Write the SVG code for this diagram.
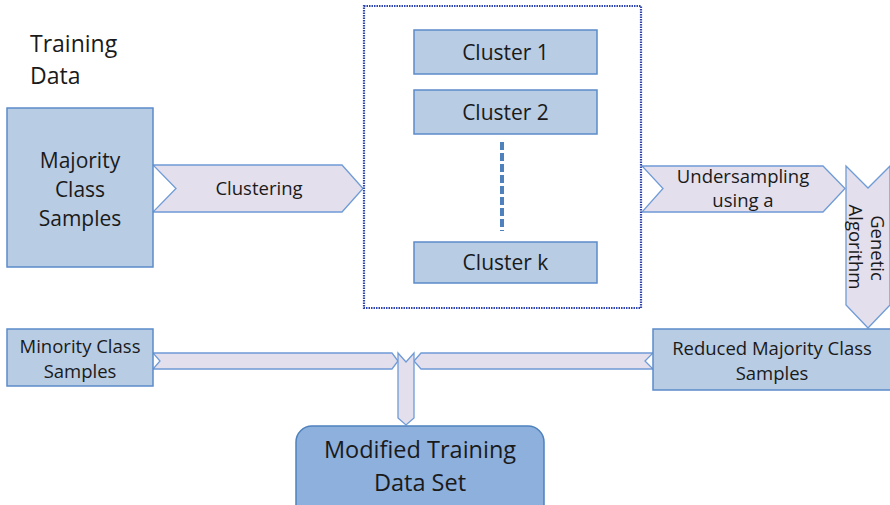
<svg xmlns="http://www.w3.org/2000/svg" width="890" height="505" viewBox="0 0 890 505">
<style>
text{font-family:"Open Sans","Liberation Sans",sans-serif;fill:#1a1a1a;text-anchor:middle}
.box{fill:#b8cce4;stroke:#5b8bc9;stroke-width:1.5}
.arr{fill:#e4dfec;stroke:#6f9bd6;stroke-width:1.3}
.t17{font-size:18.5px}
.t19{font-size:21px}
</style>
<rect width="890" height="505" fill="#fff"/>
<g id="title"><text x="30" y="52" font-size="23" style="text-anchor:start">Training</text><text x="30" y="84" font-size="23" style="text-anchor:start">Data</text></g>
<g id="connectors">
<polygon class="arr" points="153,165 342,165 363,188.5 342,212 153,212 176,188.5"/>
<text x="259" y="195" font-size="18.5">Clustering</text>
<polygon class="arr" points="642,166 823,166 845,188.5 823,212 642,212 663,188.5"/>
<text class="t17" x="743" y="183">Undersampling</text>
<text class="t17" x="743" y="207">using a</text>
<polygon class="arr" points="846,166 868,188 890,166 890,305 868,328 846,305"/>
<text font-size="18.5" transform="translate(871,248) rotate(90)">Genetic</text>
<text font-size="18.5" transform="translate(848.5,247) rotate(90)">Algorithm</text>
<polygon class="arr" points="153,353 392,353 398,361 392,369 153,369 160,361"/>
<polygon class="arr" points="653,353 421,353 414,361 421,369 653,369 645,361"/>
<polygon class="arr" points="398,353 406,362 414,353 414,418 406,425 398,418"/>
</g>
<g id="majority"><rect class="box" x="7" y="108" width="146" height="159"/>
<text class="t19" x="80" y="168">Majority</text><text class="t19" x="80" y="197">Class</text><text class="t19" x="80" y="226">Samples</text></g>
<g id="clusters">
<rect x="364" y="6" width="277" height="302" fill="none" stroke="#2f44ad" stroke-width="2.2" stroke-dasharray="1.5,1"/>
<g id="c1"><rect class="box" x="414" y="30" width="183" height="44"/><text class="t19" x="505.5" y="60">Cluster 1</text></g>
<g id="c2"><rect class="box" x="414" y="90" width="183" height="44"/><text class="t19" x="505.5" y="120">Cluster 2</text></g>
<line x1="502" y1="142" x2="502" y2="231" stroke="#4f81bd" stroke-width="4" stroke-dasharray="8,3"/>
<g id="ck"><rect class="box" x="414" y="242" width="183" height="41"/><text class="t19" x="505.5" y="270">Cluster k</text></g>
</g>
<g id="minority"><rect class="box" x="7" y="329" width="146" height="57"/>
<text class="t17" x="80" y="353">Minority Class</text><text class="t17" x="80" y="378">Samples</text></g>
<g id="reduced"><rect class="box" x="653" y="329" width="245" height="61"/>
<text class="t17" x="772" y="355">Reduced Majority Class</text><text class="t17" x="772" y="380">Samples</text></g>
<g id="modified"><rect x="296" y="426" width="248" height="95" rx="16" fill="#8db0dd" stroke="#4f81bd" stroke-width="1.5"/>
<text x="420" y="458" font-size="23.5">Modified Training</text><text x="420" y="491" font-size="23.5">Data Set</text></g>
</svg>
